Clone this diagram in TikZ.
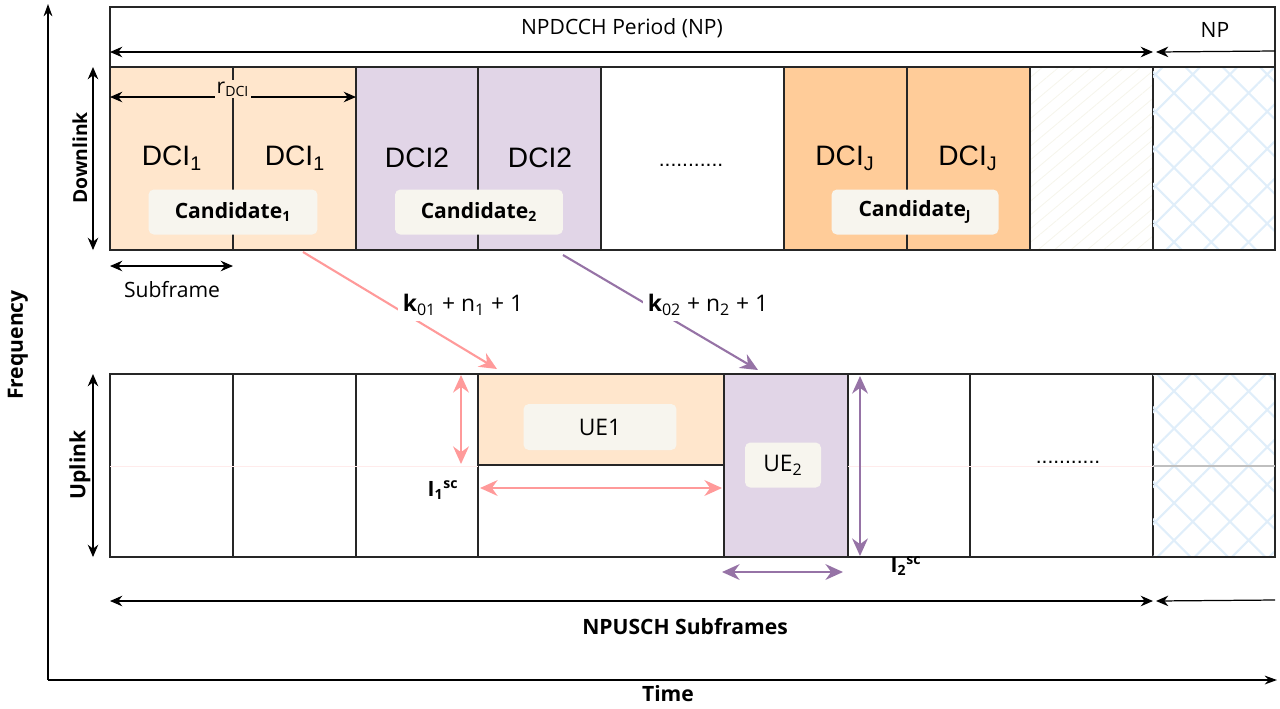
\documentclass[tikz,border=0pt]{standalone}
\usepackage{fontspec}
\setmainfont{Liberation Sans}
\newfontfamily\comic{Open Sans}
\usetikzlibrary{arrows.meta,patterns.meta,positioning}

\definecolor{peach}{HTML}{FFE6CC}
\definecolor{lilac}{HTML}{E1D5E7}
\definecolor{apricot}{HTML}{FFCC99}
\definecolor{rosy}{HTML}{FF9A9A}
\definecolor{violet}{HTML}{9673A6}
\definecolor{tagbg}{HTML}{F7F5EE}
\definecolor{hatchblue}{HTML}{E0EEFA}
\definecolor{zigcol}{HTML}{F6F5EC}

\tikzset{
  cell/.style={draw=black!85, line width=0.8pt},
  dim/.style={line width=0.7pt, {Stealth[length=7pt,width=6pt]}-{Stealth[length=7pt,width=6pt]}},
  onedim/.style={line width=0.7pt, -{Stealth[length=7pt,width=6pt]}},
  thick dim/.style={line width=1.2pt, {Stealth[length=10pt,width=9pt]}-{Stealth[length=10pt,width=9pt]}},
  hop/.style={line width=1.2pt, -{Stealth[length=10pt,width=9pt]}},
  tag/.style={fill=tagbg, rounded corners=3pt, font=\comic\bfseries\fontsize{12}{14}\selectfont},
  dci/.style={font=\fontsize{16}{18}\selectfont},
  hand/.style={font=\comic\fontsize{12}{14}\selectfont},
  handb/.style={font=\comic\bfseries\fontsize{12}{14}\selectfont}
}
\newcommand{\lo}[1]{\textsubscript{#1}}

\begin{document}
\begin{tikzpicture}[x=0.02cm, y=-0.02cm]
  \useasboundingbox (0,0) rectangle (1280,708);
  % axes
  \coordinate (origin) at (48,680);
  \coordinate (ftop) at (48,4);
  \coordinate (tend) at (1277,680);
  \draw[line width=0.8pt, -{Stealth[length=7pt,width=5pt]}] (origin) -- (ftop);
  \draw[line width=0.8pt, -{Stealth[length=7pt,width=5pt]}] (origin) -- (tend);
  \node[handb, rotate=90] (freq) at (18,345) {Frequency};
  \node[handb] (time) at (668,694) {Time};

  % downlink
  \foreach \xa/\xb/\col in {110/233/peach,233/356/peach,356/478/lilac,478/601/lilac,601/784/white,784/907/apricot,907/1030/apricot}
    \draw[cell, fill=\col] (\xa,67) rectangle (\xb,250);
  \fill[pattern={Lines[angle=40,distance=6pt,line width=0.5pt]}, pattern color=zigcol] (1030,67) rectangle (1153,250);
  \draw[cell] (1030,67) rectangle (1153,250);
  \fill[pattern={Hatch[angle=45,distance=15pt,line width=1.2pt]}, pattern color=hatchblue] (1153,67) rectangle (1275,250);
  \draw[cell] (110,7) rectangle (1275,250);
  \draw[cell] (110,67) -- (1275,67);

  \coordinate (np0) at (110,52);
  \coordinate (np1) at (1153,52);
  \coordinate (np2) at (1275,51);
  \draw[dim] (np0) -- (np1);
  \draw[onedim] (np2) -- (1156,52);
  \node[hand] (period) at (622,28) {NPDCCH Period (NP)};
  \node[hand] (npnext) at (1215,30) {NP};

  \coordinate (r0) at (110,97);
  \coordinate (r1) at (356,97);
  \draw[dim] (r0) -- (r1);
  \node[hand, fill=peach, inner sep=1pt] (rdci) at (233,89) {r\lo{DCI}};

  \node[dci] (d11) at (172,158) {DCI\lo{1}};
  \node[dci] (d12) at (295,158) {DCI\lo{1}};
  \node[dci] (d21) at (417,158) {DCI2};
  \node[dci] (d22) at (540,158) {DCI2};
  \node[font=\fontsize{12}{14}\selectfont] (ddots) at (691,165) {...........};
  \node[dci] (dj1) at (845,158) {DCI\lo{J}};
  \node[dci] (dj2) at (968,158) {DCI\lo{J}};

  \node[tag, minimum width=3.38cm, minimum height=0.9cm] (cand1) at (233,212) {Candidate\lo{1}};
  \node[tag, minimum width=3.36cm, minimum height=0.9cm] (cand2) at (479,212) {Candidate\lo{2}};
  \node[tag, minimum width=3.34cm, minimum height=0.9cm] (candj) at (915,212) {Candidate\lo{J}};

  \draw[dim] (93,67) -- (93,250);
  \node[handb, rotate=90, font=\comic\bfseries\fontsize{11}{13}\selectfont] (dl) at (80,158) {Downlink};
  \draw[dim] (110,266) -- (233,266);
  \node[hand] (sub) at (172,290) {Subframe};

  % uplink
  \foreach \xa/\xb in {110/233,233/356,356/478,478/724,848/970,970/1153}
    \draw[cell] (\xa,374) rectangle (\xb,557);
  \draw[cell, fill=peach] (478,374) rectangle (724,465);
  \draw[cell, fill=lilac] (724,374) rectangle (848,557);
  \fill[pattern={Hatch[angle=45,distance=15pt,line width=1.2pt]}, pattern color=hatchblue] (1153,374) rectangle (1275,557);
  \draw[cell] (110,374) rectangle (1275,557);
  \draw[black!25, line width=0.6pt] (1153,466) -- (1275,466);
  \draw[rosy!20, line width=0.5pt] (110,466) -- (478,466);
  \draw[rosy!20, line width=0.5pt] (848,466) -- (1153,466);
  \draw[cell] (724,374) -- (724,557);

  \node[tag, font=\comic\fontsize{13}{15}\selectfont, minimum width=3.06cm, minimum height=0.92cm] (ue1) at (600,427) {UE1};
  \node[tag, font=\comic\fontsize{13}{15}\selectfont, minimum width=1.52cm, minimum height=0.9cm] (ue2) at (783,465) {UE\lo{2}};
  \node[font=\fontsize{12}{14}\selectfont] (udots) at (1068,462) {...........};

  \draw[dim] (93,374) -- (93,557);
  \node[handb, rotate=90] (ul) at (80,465) {Uplink};

  % hops
  \coordinate (from1) at (303,252);
  \coordinate (to1) at (497,369);
  \coordinate (from2) at (563,255);
  \coordinate (to2) at (758,370);
  \draw[hop, rosy] (from1) -- (to1);
  \draw[hop, violet] (from2) -- (to2);
  \node[fill=white, inner sep=3pt, font=\comic\fontsize{13}{15}\selectfont] (k1) at (463,305) {{\bfseries k}\lo{01} + n\lo{1} + 1};
  \node[fill=white, inner sep=3pt, font=\comic\fontsize{13}{15}\selectfont] (k2) at (708,305) {{\bfseries k}\lo{02} + n\lo{2} + 1};

  % widths
  \draw[thick dim, rosy] (461,375) -- (461,464);
  \draw[thick dim, rosy] (480,488) -- (722,488);
  \node[handb] (i1) at (443,490) {I\lo{1}\textsuperscript{sc}};
  \draw[thick dim, violet] (860,376) -- (860,556);
  \draw[thick dim, violet] (722,572) -- (843,572);
  \node[handb] (i2) at (906,566) {I\lo{2}\textsuperscript{sc}};

  % npusch
  \draw[dim] (110,601) -- (1153,601);
  \draw[onedim] (1275,600) -- (1156,601);
  \node[handb] (pusch) at (685,627) {NPUSCH Subframes};
\end{tikzpicture}
\end{document}
